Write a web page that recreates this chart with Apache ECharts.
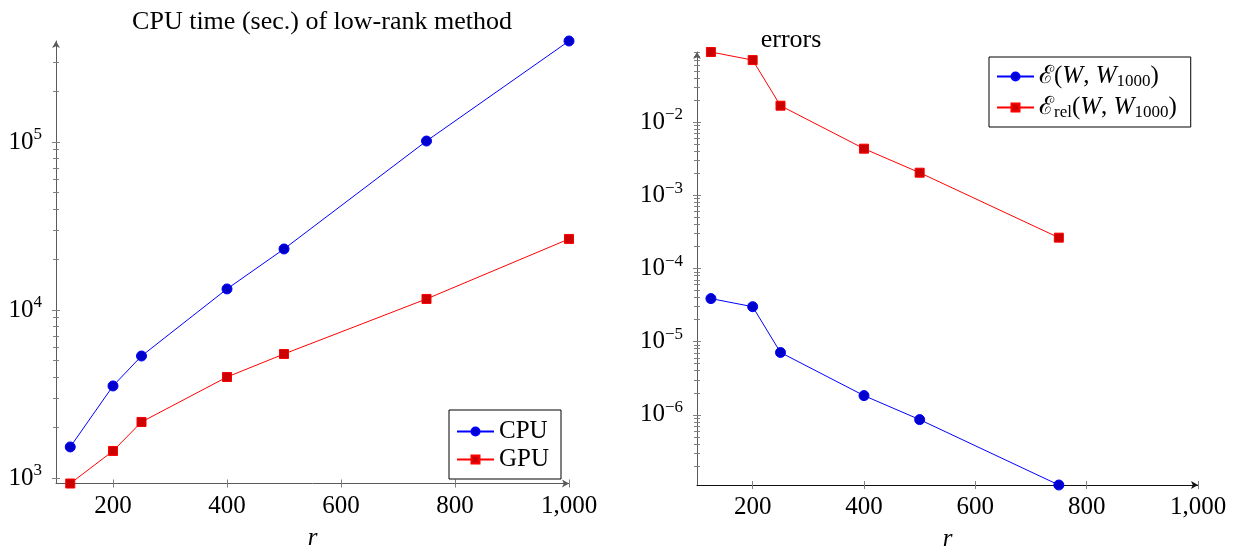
<!DOCTYPE html>
<html>
<head>
<meta charset="utf-8">
<script src="https://cdn.jsdelivr.net/npm/echarts@6/dist/echarts.min.js"></script>
<style>
  html, body { margin: 0; padding: 0; background: #fff; }
  #chart { width: 1238px; height: 549px; }
</style>
</head>
<body>
<div id="chart"></div>
<script>
// rank r
const ranks = [125, 200, 250, 400, 500, 750, 1000]
// CPU / GPU time (sec.)
const cpuTime = [1530, 3530, 5320, 13340, 23070, 101300, 399000]
const gpuTime = [927, 1448, 2154, 3990, 5470, 11630, 26470]
// errors vs W_1000
const errRanks = [125, 200, 250, 400, 500, 750]
const errAbs = [3.87e-5, 3.0e-5, 7.1e-6, 1.83e-6, 8.6e-7, 1.1e-7]
const errRel = [0.0904, 0.0701, 0.0167, 0.00432, 0.00203, 2.63e-4]
// ticks
const xTicks = [200, 400, 600, 800, 1000]
const timeDecades = [1e3, 1e4, 1e5]
const errDecades = [1e-6, 1e-5, 1e-4, 1e-3, 1e-2]

const FONT = 'Liberation Serif, DejaVu Serif, serif'
const FS = 25
const AXIS_GRAY = '#5a5a5a'
const TICK_GRAY = '#808080'

function minorTicks(lo, hi) {
  const out = []
  for (let e = Math.floor(Math.log10(lo)); e <= Math.ceil(Math.log10(hi)); e++) {
    for (let m = 1; m <= 9; m++) {
      const v = m * Math.pow(10, e)
      if (v >= lo && v <= hi) out.push(v)
    }
  }
  return out
}

function pow10Label(v) {
  const e = Math.round(Math.log10(v))
  return '10{sup|' + String(e).replace('-', '\u2212') + '}'
}

function yAxes(gridIndex, min, max, decades, lineColor) {
  const base = {
    type: 'log', logBase: 10, gridIndex: gridIndex, min: min, max: max,
    position: 'left', offset: 0, splitLine: { show: false }
  }
  const minors = minorTicks(min, max)
  return [
    Object.assign({}, base, {
      axisLine: { show: true, symbol: ['none', 'arrow'], symbolSize: [6, 7], lineStyle: { color: lineColor, width: 1 } },
      axisTick: { show: true, customValues: decades, length: 4, lineStyle: { color: TICK_GRAY } },
      axisLabel: {
        customValues: decades, formatter: pow10Label, margin: 14,
        color: '#000', fontFamily: FONT, fontSize: FS,
        rich: { sup: { fontFamily: FONT, fontSize: 17, color: '#000', padding: [0, 0, 14, 0] } }
      }
    }),
    Object.assign({}, base, {
      axisLine: { show: false },
      axisTick: { show: true, inside: true, customValues: decades, length: 4, lineStyle: { color: TICK_GRAY } },
      axisLabel: { show: false }
    }),
    Object.assign({}, base, {
      axisLine: { show: false },
      axisTick: { show: true, customValues: minors, length: 3, lineStyle: { color: TICK_GRAY } },
      axisLabel: { show: false }
    }),
    Object.assign({}, base, {
      axisLine: { show: false },
      axisTick: { show: true, inside: true, customValues: minors, length: 3, lineStyle: { color: TICK_GRAY } },
      axisLabel: { show: false }
    })
  ]
}

function xAxes(gridIndex, lineColor) {
  const base = {
    type: 'value', gridIndex: gridIndex, min: 100, max: 1000,
    position: 'bottom', offset: 0, splitLine: { show: false }
  }
  return [
    Object.assign({}, base, {
      name: 'r', nameLocation: 'middle', nameGap: 42,
      nameTextStyle: { fontFamily: FONT, fontSize: FS, fontStyle: 'italic', color: '#000' },
      axisLine: { show: true, symbol: ['none', 'arrow'], symbolSize: [6, 7], lineStyle: { color: lineColor, width: 1 } },
      axisTick: { show: true, customValues: xTicks, length: 4, lineStyle: { color: TICK_GRAY } },
      axisLabel: {
        customValues: xTicks, margin: 10, color: '#000', fontFamily: FONT, fontSize: FS,
        formatter: v => v.toLocaleString('en-US')
      }
    }),
    Object.assign({}, base, {
      axisLine: { show: false },
      axisTick: { show: true, inside: true, customValues: xTicks, length: 4, lineStyle: { color: TICK_GRAY } },
      axisLabel: { show: false }
    })
  ]
}

const blue = { line: '#0000ff', fill: '#0000cc' }
const red = { line: '#ff0000', fill: '#cc0000' }

function lineSeries(name, xs, ys, col, symbol, size, xi, yi) {
  return {
    name: name, type: 'line', xAxisIndex: xi, yAxisIndex: yi,
    data: xs.map((x, i) => [x, ys[i]]),
    symbol: symbol, symbolSize: size, showSymbol: true,
    lineStyle: { color: col.line, width: 1 },
    itemStyle: { color: col.fill, borderColor: col.line, borderWidth: 1 },
    animation: false, z: 5
  }
}

const chart = echarts.init(document.getElementById('chart'))
chart.setOption({
  backgroundColor: '#fff',
  animation: false,
  title: [
    { text: 'CPU time (sec.) of low-rank method', left: 317, top: 4, textAlign: 'center',
      textStyle: { fontFamily: FONT, fontSize: 26, fontWeight: 'normal', color: '#000' } },
    { text: 'errors', left: 786, top: 22, textAlign: 'center',
      textStyle: { fontFamily: FONT, fontSize: 26, fontWeight: 'normal', color: '#000' } }
  ],
  grid: [
    { left: 56, right: 669, top: 41, bottom: 65.5, outerBoundsMode: 'none' },
    { left: 697, right: 40, top: 52, bottom: 64, outerBoundsMode: 'none' }
  ],
  legend: [
    {
      data: ['CPU', 'GPU'], orient: 'vertical', left: 449, top: 410,
      padding: [9, 12, 7, 7], itemGap: 3, itemWidth: 37, itemHeight: 10,
      borderColor: '#000', borderWidth: 1, borderRadius: 0,
      textStyle: { fontFamily: FONT, fontSize: FS, color: '#000', width: 62 }
    },
    {
      data: ['abs', 'rel'], orient: 'vertical', left: 989, top: 57,
      padding: [7, 14, 6, 7], itemGap: 5, itemWidth: 37, itemHeight: 10,
      borderColor: '#000', borderWidth: 1, borderRadius: 0,
      formatter: function (name) {
        return name === 'abs'
          ? '{s|\u2130}({i|W}, {i|W}{sub|1000})'
          : '{s|\u2130}{sub|rel}({i|W}, {i|W}{sub|1000})'
      },
      textStyle: {
        fontFamily: FONT, fontSize: FS, color: '#000',
        rich: {
          s: { fontFamily: FONT, fontSize: FS, color: '#000' },
          i: { fontFamily: FONT, fontSize: FS, fontStyle: 'italic', color: '#000' },
          sub: { fontFamily: FONT, fontSize: 17, color: '#000', padding: [10, 0, 0, 0] }
        }
      }
    }
  ],
  xAxis: xAxes(0, AXIS_GRAY).concat(xAxes(1, '#111')),
  yAxis: yAxes(0, 927, 399000, timeDecades, AXIS_GRAY).concat(yAxes(1, 1.1e-7, 0.0904, errDecades, AXIS_GRAY)),
  series: [
    lineSeries('CPU', ranks, cpuTime, blue, 'circle', 10, 0, 0),
    lineSeries('GPU', ranks, gpuTime, red, 'rect', 9, 0, 0),
    lineSeries('abs', errRanks, errAbs, blue, 'circle', 10, 2, 4),
    lineSeries('rel', errRanks, errRel, red, 'rect', 9, 2, 4)
  ]
})
</script>
</body>
</html>
